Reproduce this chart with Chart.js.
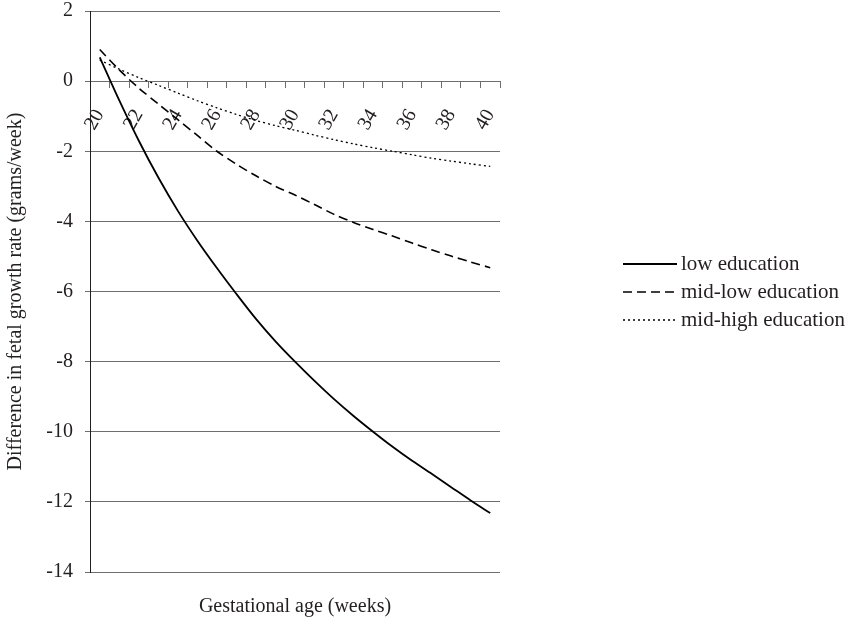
<!DOCTYPE html>
<html>
<head>
<meta charset="utf-8">
<title>Fetal growth rate by education</title>
<script src="https://cdn.jsdelivr.net/npm/chart.js@4.4.1/dist/chart.umd.min.js"></script>
<style>
	html, body { margin: 0; padding: 0; background: #ffffff; }
</style>
</head>
<body>
<canvas id="growthChart" width="854" height="623"></canvas>
<script>
// Gestational weeks (category axis, ticks between categories like Excel)
const weeks = ['20', '21', '22', '23', '24', '25', '26', '27', '28', '29', '30',
	'31', '32', '33', '34', '35', '36', '37', '38', '39', '40'];

// Difference in fetal growth rate (grams/week)
const lowEducation = [0.68, -0.55, -1.7, -2.75, -3.7, -4.55, -5.33, -6.07, -6.78, -7.42, -8.0,
	-8.55, -9.07, -9.55, -10.0, -10.43, -10.83, -11.2, -11.58, -11.96, -12.32];
const midLowEducation = [0.9, 0.32, -0.2, -0.65, -1.1, -1.55, -2.0, -2.37, -2.7, -3.0, -3.25,
	-3.52, -3.8, -4.03, -4.23, -4.42, -4.62, -4.81, -4.99, -5.16, -5.32];
const midHighEducation = [0.6, 0.34, 0.1, -0.12, -0.34, -0.56, -0.76, -0.95, -1.12, -1.27, -1.4,
	-1.54, -1.67, -1.79, -1.9, -2.0, -2.1, -2.2, -2.28, -2.36, -2.43];

const seriesLabels = ['low education', 'mid-low education', 'mid-high education'];
const yTicks = [2, 0, -2, -4, -6, -8, -10, -12, -14];

const textColor = '#231f20';
const gridColor = '#6e6e6e';
const fontFamily = "'Liberation Serif', 'DejaVu Serif', serif";

Chart.defaults.font.family = fontFamily;
Chart.defaults.font.size = 20;
Chart.defaults.color = textColor;

// Legend sits well to the right of the plot, so draw it by hand
const sideLegend = {
	id: 'sideLegend',
	afterDraw(chart) {
		const ctx = chart.ctx;
		const x0 = 623;
		const lineLen = 54;
		ctx.save();
		ctx.font = `21px ${fontFamily}`;
		ctx.textBaseline = 'middle';
		ctx.fillStyle = textColor;
		chart.data.datasets.forEach((ds, i) => {
			const y = 264 + i * 28;
			ctx.beginPath();
			ctx.strokeStyle = ds.borderColor;
			ctx.lineWidth = ds.borderWidth;
			ctx.setLineDash(ds.borderDash || []);
			ctx.moveTo(x0, y);
			ctx.lineTo(x0 + lineLen, y);
			ctx.stroke();
			ctx.setLineDash([]);
			ctx.fillText(ds.label, x0 + lineLen + 4, y);
		});
		ctx.restore();
	}
};

const ctx = document.getElementById('growthChart').getContext('2d');
const chart = new Chart(ctx, {
	type: 'line',
	data: {
		labels: weeks,
		datasets: [{
			label: seriesLabels[0],
			data: lowEducation,
			borderColor: '#000000',
			borderWidth: 1.8,
			pointRadius: 0,
			tension: 0.3
		}, {
			label: seriesLabels[1],
			data: midLowEducation,
			borderColor: '#000000',
			borderWidth: 1.6,
			borderDash: [9, 5],
			pointRadius: 0,
			tension: 0.3
		}, {
			label: seriesLabels[2],
			data: midHighEducation,
			borderColor: '#000000',
			borderWidth: 1.3,
			borderDash: [2, 3],
			pointRadius: 0,
			tension: 0.3
		}]
	},
	options: {
		responsive: false,
		animation: false,
		layout: {
			padding: { top: 11, right: 354, left: 0, bottom: 0 }
		},
		plugins: {
			legend: { display: false },
			tooltip: { enabled: false }
		},
		scales: {
			x: {
				type: 'category',
				position: { y: 0 },
				offset: true,
				grid: {
					offset: true,
					drawOnChartArea: false,
					drawTicks: true,
					tickLength: 6,
					color: gridColor
				},
				border: { color: gridColor, width: 1 },
				ticks: {
					autoSkip: false,
					minRotation: 60,
					maxRotation: 60,
					padding: 18,
					callback: function(value, index) {
						return index % 2 === 0 ? this.getLabelForValue(value) : '';
					}
				}
			},
			x2: {
				type: 'category',
				labels: weeks,
				position: 'bottom',
				grid: { display: false },
				border: { display: false },
				ticks: { display: false },
				title: {
					display: true,
					text: 'Gestational age (weeks)',
					padding: { top: 26, bottom: 4 }
				},
				afterFit(scale) {
					scale.height = 51;
				}
			},
			y: {
				min: -14,
				max: 2,
				afterBuildTicks(scale) {
					scale.ticks = yTicks.map(v => ({ value: v }));
				},
				ticks: {
					padding: 12,
					callback: value => value
				},
				grid: {
					color: gridColor,
					tickLength: 5
				},
				border: { color: textColor, width: 1 },
				title: {
					display: true,
					text: 'Difference in fetal growth rate (grams/week)',
					padding: { top: 4, bottom: 0 }
				},
				afterFit(scale) {
					scale.width = 90;
					scale.paddingTop = 0;
				}
			}
		}
	},
	plugins: [sideLegend]
});
</script>
</body>
</html>
